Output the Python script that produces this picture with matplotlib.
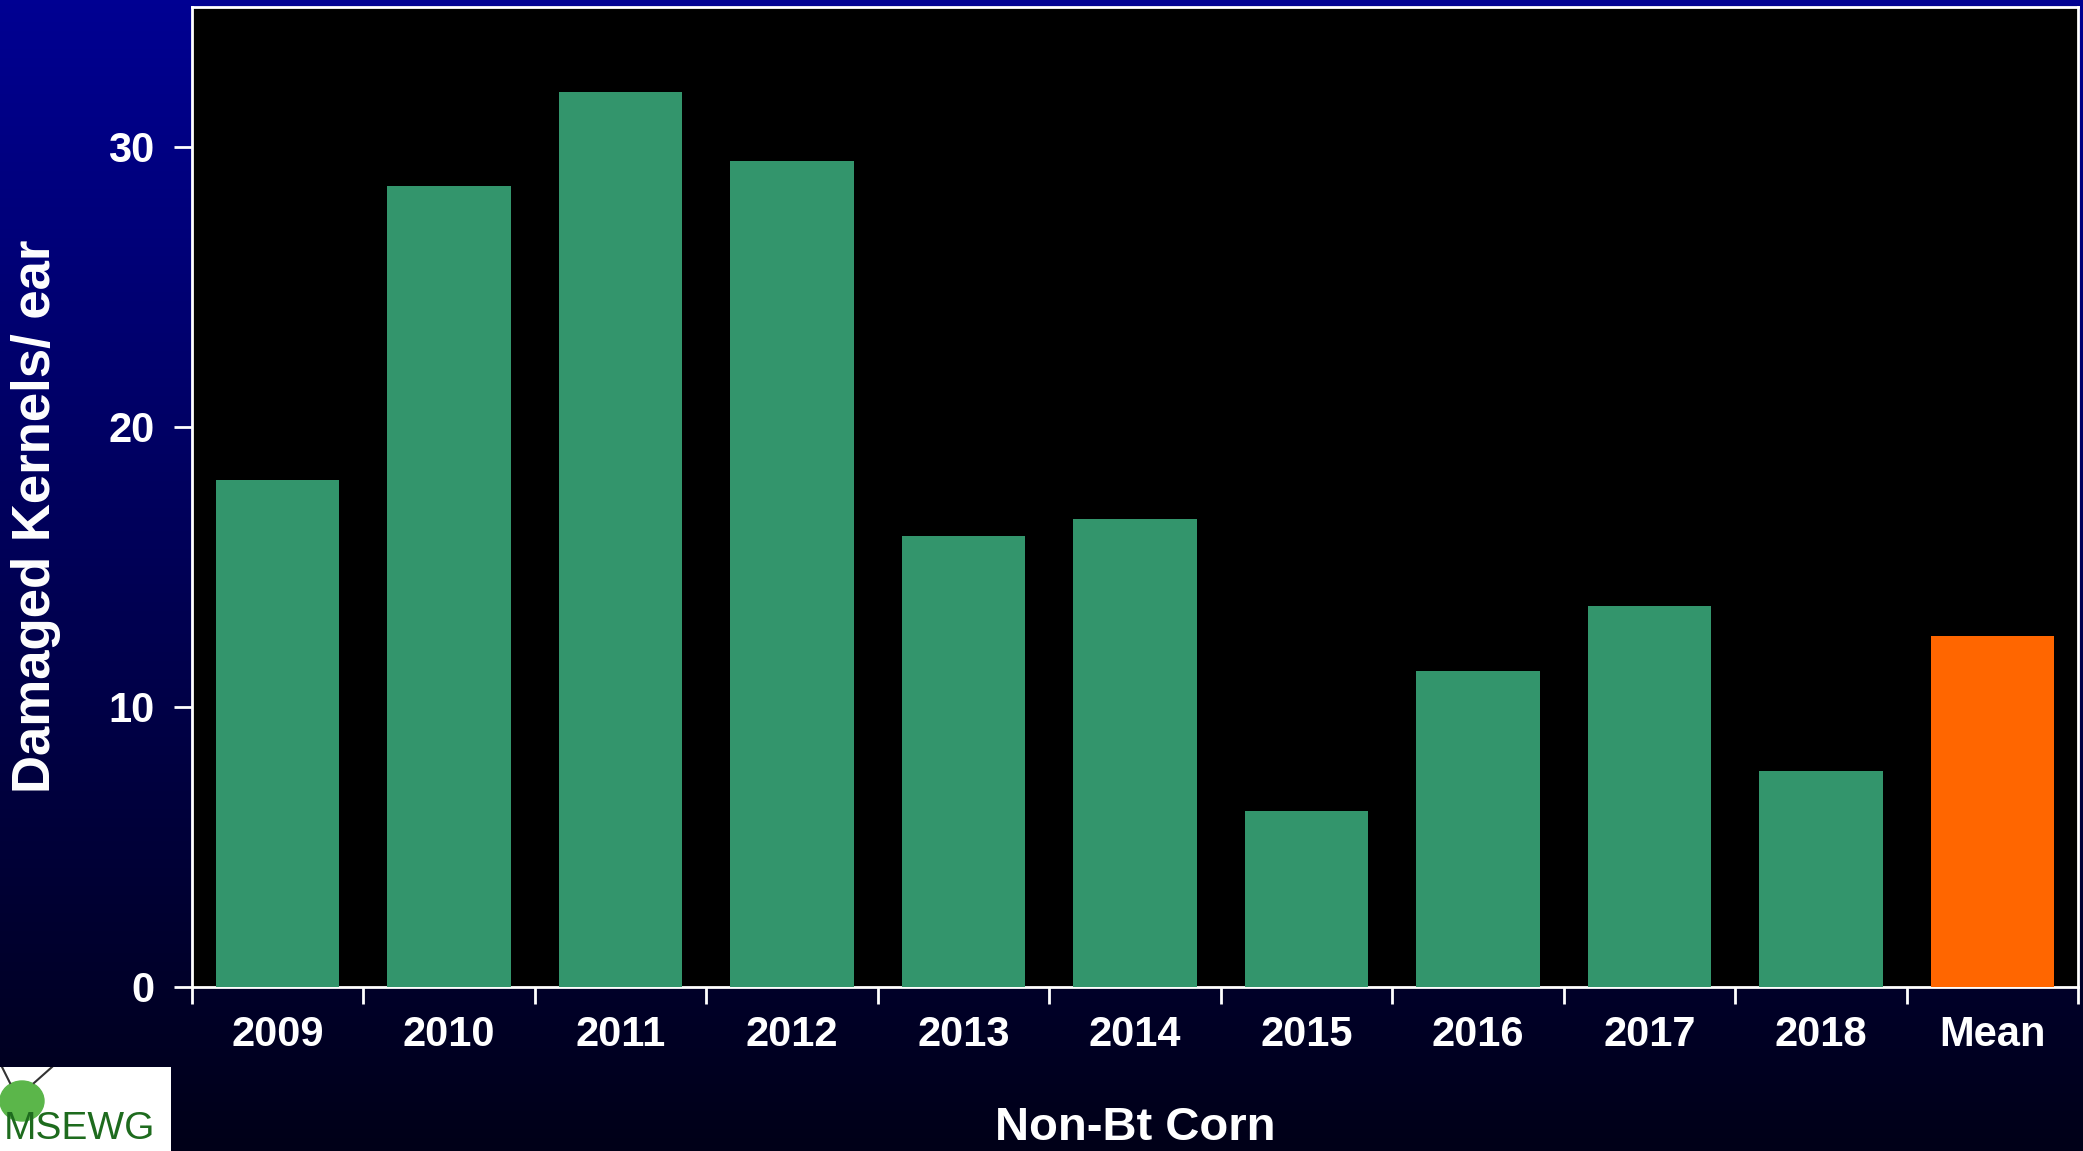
import numpy as np
import matplotlib
matplotlib.use("Agg")
import matplotlib.pyplot as plt
from matplotlib.patches import Rectangle, Ellipse

categories = ["2009", "2010", "2011", "2012", "2013", "2014", "2015", "2016", "2017", "2018", "Mean"]
values = [18.1, 28.6, 31.95, 29.5, 16.1, 16.7, 6.3, 11.3, 13.6, 7.7, 12.55]
bar_colors = ["#33956C"] * 10 + ["#FF6600"]
yticks = [0, 10, 20, 30]
ylabel = "Damaged Kernels/ ear"
xlabel = "Non-Bt Corn"
logo_text = "MSEWG"

plt.rcParams['font.family'] = ['Liberation Sans', 'DejaVu Sans']
plt.rcParams['font.weight'] = 'bold'

W, H = 2083, 1151
fig = plt.figure(figsize=(W / 100, H / 100), dpi=100)

# gradient background
bg = fig.add_axes([0, 0, 1, 1], zorder=-10)
grad = np.linspace(0, 1, 256).reshape(-1, 1)
top = np.array([0, 0, 146]) / 255
bot = np.array([0, 0, 24]) / 255
img = top[None, None, :] * (1 - grad[:, :, None]) + bot[None, None, :] * grad[:, :, None]
bg.imshow(img, aspect='auto', extent=[0, 1, 0, 1], origin='upper')
bg.set_axis_off()

# logo approximation
logo = fig.add_axes([0, 0, 171 / W, 84 / H], zorder=-5)
logo.set_xlim(0, 171)
logo.set_ylim(0, 84)
logo.add_patch(Rectangle((0, 0), 171, 84, color='white'))
logo.add_patch(Ellipse((22, 50), 44, 40, color='#5BB64A'))
logo.plot([10, 2], [68, 84], color='#333333', lw=1.5)
logo.plot([34, 52], [68, 84], color='#333333', lw=1.5)
logo.text(4, 4, logo_text, color='#1E6B1E', fontsize=28, fontweight='normal',
          family=['Liberation Sans Narrow', 'Liberation Sans'], va='bottom', ha='left')
logo.set_axis_off()

ax = fig.add_axes([192 / W, 1 - 987 / H, (2078 - 192) / W, (987 - 7) / H])
ax.set_facecolor('black')
x = np.arange(len(categories))
ax.bar(x, values, width=0.72, color=bar_colors, zorder=3)
ax.set_xlim(-0.5, len(categories) - 0.5)
ax.set_ylim(0, 35)
ax.set_yticks(yticks)
ax.set_yticklabels([str(v) for v in yticks])
ax.set_xticks(x)
ax.set_xticklabels(categories)
ax.set_xticks(np.arange(-0.5, len(categories)), minor=True)
ax.tick_params(axis='x', which='major', length=0, pad=20, labelsize=30, colors='white')
ax.tick_params(axis='x', which='minor', length=12, width=2, color='white', direction='out')
ax.tick_params(axis='y', which='major', length=13, width=2, color='white', labelcolor='white',
               labelsize=30, pad=14)
for lab in ax.get_xticklabels() + ax.get_yticklabels():
    lab.set_fontweight('bold')
for s in ax.spines.values():
    s.set_color('white')
    s.set_linewidth(2)

fig.text(36 / W, 1 - 516 / H, ylabel, rotation=90, color='white', fontsize=38,
         fontweight='bold', ha='center', va='center')
fig.text(1135 / W, 1 - 1128 / H, xlabel, color='white', fontsize=34,
         fontweight='bold', ha='center', va='center')

fig.savefig("out.png", dpi=100, facecolor=fig.get_facecolor())
